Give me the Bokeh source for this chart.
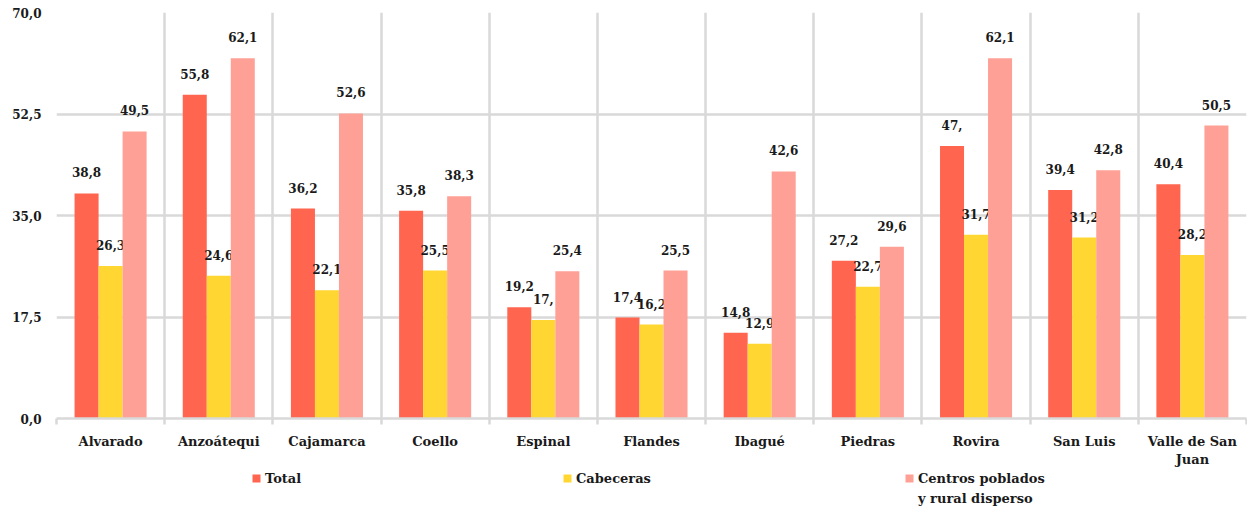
from bokeh.plotting import figure
from bokeh.models import (ColumnDataSource, Range1d, FixedTicker, CustomJSTickFormatter,
                          Legend, LegendItem)
from bokeh.layouts import column
from bokeh.core.properties import value
from bokeh.embed import file_html
from bokeh.resources import INLINE

categories = ["Alvarado", "Anzoátequi", "Cajamarca", "Coello", "Espinal", "Flandes",
              "Ibagué", "Piedras", "Rovira", "San Luis", "Valle de San\nJuan"]
total = [38.8, 55.8, 36.2, 35.8, 19.2, 17.4, 14.8, 27.2, 47.0, 39.4, 40.4]
cabeceras = [26.3, 24.6, 22.1, 25.5, 17.0, 16.2, 12.9, 22.7, 31.7, 31.2, 28.2]
centros = [49.5, 62.1, 52.6, 38.3, 25.4, 25.5, 42.6, 29.6, 62.1, 42.8, 50.5]
total_labels = ["38,8", "55,8", "36,2", "35,8", "19,2", "17,4", "14,8", "27,2", "47,", "39,4", "40,4"]
cabeceras_labels = ["26,3", "24,6", "22,1", "25,5", "17,", "16,2", "12,9", "22,7", "31,7", "31,2", "28,2"]
centros_labels = ["49,5", "62,1", "52,6", "38,3", "25,4", "25,5", "42,6", "29,6", "62,1", "42,8", "50,5"]
y_ticks = [0, 17.5, 35, 52.5, 70]
series_names = ["Total", "Cabeceras", ["Centros poblados", "y rural disperso"]]
colors = ["#FF654F", "#FFD632", "#FFA096"]

FONT = "DejaVu Serif"
GRID = "#d9d9d9"
TXT = "#1a1a1a"
n = len(categories)
bw = 0.222
offsets = [-bw, 0.0, bw]
centers = [i + 0.5 for i in range(n)]

p = figure(width=1247, height=470, output_backend="svg", toolbar_location=None,
           x_range=Range1d(0, n), y_range=Range1d(0, 70),
           min_border_left=56, min_border_right=1, min_border_top=12, min_border_bottom=52)
p.outline_line_color = None
p.background_fill_color = "white"

# grids
p.ygrid.ticker = FixedTicker(ticks=y_ticks)
p.ygrid.grid_line_color = GRID
p.ygrid.grid_line_width = 2.5
p.xgrid.ticker = FixedTicker(ticks=list(range(n + 1)))
p.xgrid.grid_line_color = GRID
p.xgrid.grid_line_width = 2.5

# y axis
p.yaxis.ticker = FixedTicker(ticks=y_ticks)
p.yaxis.formatter = CustomJSTickFormatter(code="return tick.toFixed(1).replace('.', ',');")
p.yaxis.axis_line_color = None
p.yaxis.major_tick_line_color = None
p.yaxis.minor_tick_line_color = None
p.yaxis.major_tick_in = 0
p.yaxis.major_tick_out = 0
p.yaxis.major_label_standoff = 15
p.yaxis.major_label_text_font = FONT
p.yaxis.major_label_text_font_style = "bold"
p.yaxis.major_label_text_font_size = "12px"
p.yaxis.major_label_text_color = TXT

# x axis: labels at centres, minor ticks at boundaries
p.xaxis.ticker = FixedTicker(ticks=centers, minor_ticks=list(range(n + 1)))
p.xaxis.major_label_overrides = {c: categories[i] for i, c in enumerate(centers)}
p.xaxis.axis_line_color = GRID
p.xaxis.axis_line_width = 2.5
p.xaxis.major_tick_line_color = None
p.xaxis.major_tick_in = 0
p.xaxis.major_tick_out = 0
p.xaxis.minor_tick_line_color = GRID
p.xaxis.minor_tick_line_width = 2.5
p.xaxis.minor_tick_in = 0
p.xaxis.minor_tick_out = 6
p.xaxis.major_label_standoff = 9
p.xaxis.major_label_text_font = FONT
p.xaxis.major_label_text_font_style = "bold"
p.xaxis.major_label_text_font_size = "13px"
p.xaxis.major_label_text_color = TXT

series = [total, cabeceras, centros]
for vals, labels, off, col in zip(series,
                                  [total_labels, cabeceras_labels, centros_labels],
                                  offsets, colors):
    src = ColumnDataSource(dict(x=[c + off for c in centers], top=vals, lab=labels))
    p.vbar(x="x", top="top", width=bw, bottom=0, source=src,
           fill_color=col, line_color=None)
    p.text(x="x", y="top", text="lab", source=src, y_offset=-21,
           text_align="center", text_baseline="middle",
           text_font=value(FONT), text_font_style="bold", text_font_size="12px",
           text_color=TXT)

# legend strip below the chart (its frame is aligned with the chart frame)
p2 = figure(width=1247, height=38, output_backend="svg", toolbar_location=None,
            x_range=Range1d(0, n), y_range=Range1d(0, 70),
            x_axis_type=None, y_axis_type=None,
            min_border_left=56, min_border_right=1, min_border_top=0, min_border_bottom=0)
p2.outline_line_color = None
p2.xgrid.visible = False
p2.ygrid.visible = False

legend_x = [195, 506, 848]
for name, col, vals, off, lx in zip(series_names, colors, series, offsets, legend_x):
    r = p2.vbar(x=[c + off for c in centers], top=vals, width=bw,
                fill_color=col, line_color=None, visible=False)
    if isinstance(name, list):
        items = [LegendItem(label=name[0], renderers=[r]), LegendItem(label=name[1], renderers=[])]
        vy = 0
    else:
        items = [LegendItem(label=name, renderers=[r])]
        vy = 20
    lg = Legend(items=items, location=(lx, vy), orientation="vertical",
                border_line_color=None, background_fill_alpha=0,
                padding=0, margin=0, spacing=0,
                glyph_width=10, glyph_height=10, label_standoff=4, label_height=20,
                label_text_font=FONT, label_text_font_style="bold",
                label_text_font_size="13px", label_text_color=TXT)
    p2.add_layout(lg)

open("out.html", "w").write(file_html(column(p, p2, spacing=0), INLINE))
